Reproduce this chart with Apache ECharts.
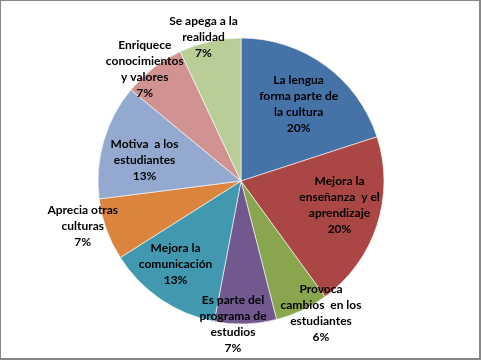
<!DOCTYPE html>
<html><head><meta charset="utf-8">
<script src="https://cdn.jsdelivr.net/npm/echarts@6/dist/echarts.min.js"></script>
<style>html,body{margin:0;padding:0;background:#fff}#c{width:481px;height:360px;box-sizing:border-box;border:1px solid #878787;border-bottom-width:2px;border-right-width:2px}</style>
</head><body><div id="c"></div>
<script>
var categories = [
  "La lengua\nforma parte de\nla cultura",
  "Mejora la\nenseñanza  y el\naprendizaje",
  "Provoca\ncambios  en los\nestudiantes",
  "Es parte del\nprograma de\nestudios",
  "Mejora la\ncomunicación",
  "Aprecia otras\nculturas",
  "Motiva  a los\nestudiantes",
  "Enriquece\nconocimientos\ny valores",
  "Se apega a la\nrealidad"
];
var values = [20, 20, 6, 7, 13, 7, 13, 7, 7];
var colors = ["#4572A7","#AA4643","#89A54E","#71588F","#4198AF","#DB843D","#93A9CF","#D19392","#B9CD96"];
// label placement styling: radial factor (of radius) and angular shift (deg)
var labelRadius = [0.67, 0.71, 1.08, 1.0, 0.74, 1.15, 0.69, 1.03, 1.04];
var labelShift = [1, -4, -6, 5, 4, 4, -4, -3, -2];

var cx = 240, cy = 180, R = 143;
var total = values.reduce(function(a,b){return a+b;},0);
var mids = [], acc = 0;
values.forEach(function(v){ mids.push((acc + v/2)/total*360); acc += v; });

var chart = echarts.init(document.getElementById('c'));
chart.setOption({
  animation: false,
  series: [{
    type: 'pie',
    center: [cx, cy],
    radius: R,
    startAngle: 90,
    clockwise: true,
    itemStyle: {borderColor: '#fff', borderWidth: 0.6},
    label: {
      show: true, position: 'inside',
      formatter: function(p){ return p.name + '\n' + Math.round(p.percent) + '%'; },
      fontFamily: 'Lato', fontWeight: 'bold', fontSize: 12, lineHeight: 16,
      color: '#000', align: 'center'
    },
    labelLine: {show: false},
    labelLayout: function(p){
      var i = p.dataIndex;
      var a = (mids[i] + labelShift[i]) * Math.PI/180;
      var r = labelRadius[i]*R;
      return {x: cx + r*Math.sin(a), y: cy - r*Math.cos(a), align: 'center', verticalAlign: 'middle'};
    },
    data: categories.map(function(n,i){ return {name: n, value: values[i], itemStyle: {color: colors[i]}}; })
  }]
});
</script></body></html>
